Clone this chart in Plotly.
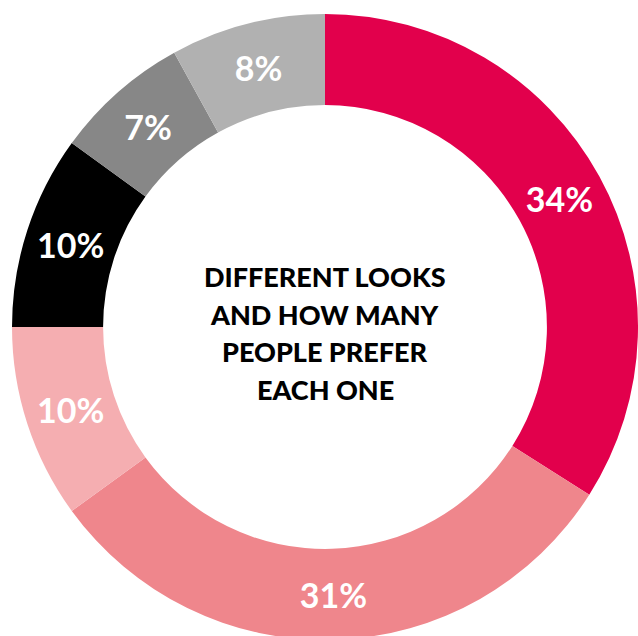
import plotly.graph_objects as go

looks = ["Look 1", "Look 2", "Look 3", "Look 4", "Look 5", "Look 6"]
shares = [34, 31, 10, 10, 7, 8]
colors = ["#E2004C", "#EF868C", "#F5AEB1", "#000000", "#878787", "#B1B1B1"]
center_lines = ["DIFFERENT LOOKS", "AND HOW MANY", "PEOPLE PREFER", "EACH ONE"]

W, H = 638, 640
cx, cy, R = 325, 327, 313  # pixel geometry of the ring

fig = go.Figure(go.Pie(
    labels=looks,
    values=shares,
    sort=False,
    direction="clockwise",
    rotation=0,
    hole=0.709,
    marker=dict(colors=colors, line=dict(width=0)),
    texttemplate="%{value}%",
    textposition="inside",
    insidetextorientation="horizontal",
    textfont=dict(family="Lato", size=34, color="white", weight="bold"),
    showlegend=False,
    hoverinfo="label+percent",
    domain=dict(x=[(cx - R) / W, min(1, (cx + R) / W)],
                y=[max(0, (H - cy - R) / H), min(1, (H - cy + R) / H)]),
))

line_y = [276, 314, 351.5, 389.5]
for txt, yy in zip(center_lines, line_y):
    fig.add_annotation(
        text=txt, x=cx / W, y=1 - yy / H, xref="paper", yref="paper",
        xanchor="center", yanchor="middle", showarrow=False,
        font=dict(family="Lato", size=27, color="black", weight=900),
    )

fig.update_layout(
    width=W, height=H,
    margin=dict(l=0, r=0, t=0, b=0),
    paper_bgcolor="white",
    plot_bgcolor="white",
)

fig.write_html(
    "out.html",
    config={"displayModeBar": False},
    post_script="document.body.style.margin='0';document.body.style.overflow='hidden';",
)
